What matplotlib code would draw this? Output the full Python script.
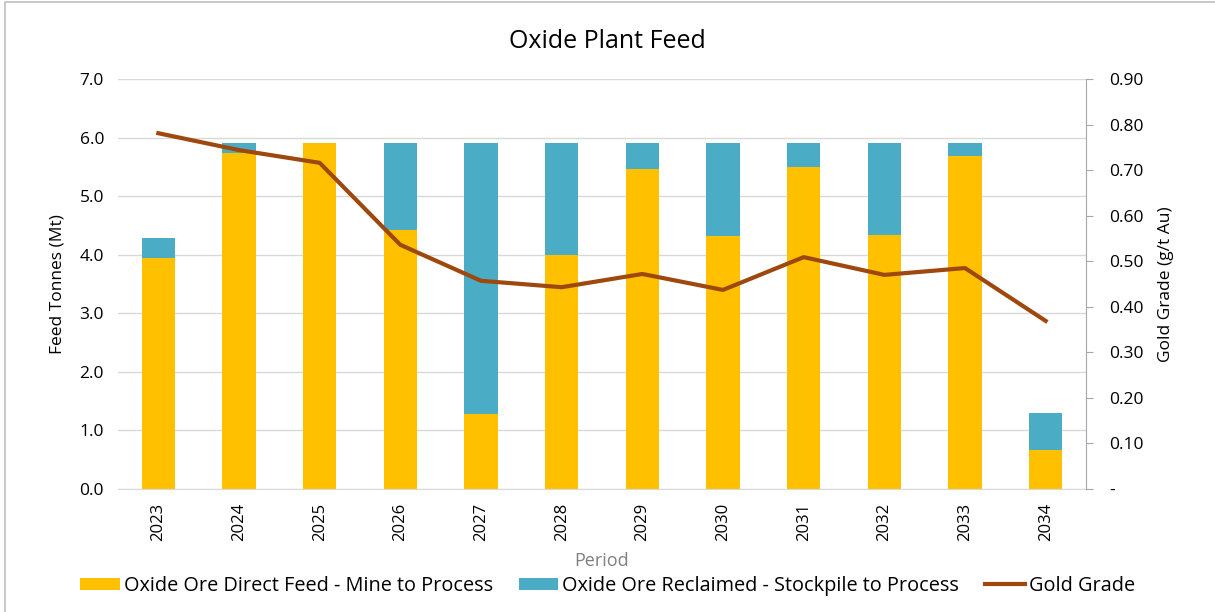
import numpy as np
import matplotlib.pyplot as plt
from matplotlib.ticker import FixedLocator
from matplotlib.lines import Line2D

plt.rcParams['font.family'] = ['Open Sans', 'DejaVu Sans']

years = ['2023', '2024', '2025', '2026', '2027', '2028', '2029', '2030', '2031', '2032', '2033', '2034']
direct_feed = [3.94, 5.74, 5.90, 4.43, 1.28, 4.00, 5.46, 4.32, 5.50, 4.34, 5.69, 0.66]
reclaimed = [0.35, 0.16, 0.00, 1.47, 4.62, 1.90, 0.44, 1.58, 0.40, 1.56, 0.21, 0.64]
gold_grade = [0.781, 0.744, 0.716, 0.536, 0.457, 0.443, 0.472, 0.437, 0.509, 0.470, 0.485, 0.369]

c_direct = '#FFC000'
c_reclaim = '#4BACC6'
c_gold = '#9E480E'

fig = plt.figure(figsize=(12.15, 6.12), dpi=100)
ax = fig.add_axes([118 / 1215, 1 - 489 / 612, (1086 - 118) / 1215, (489 - 79) / 612])

x = np.arange(len(years))
ax.bar(x, direct_feed, width=0.41, color=c_direct, label='Oxide Ore Direct Feed - Mine to Process', zorder=2)
ax.bar(x, reclaimed, width=0.41, bottom=direct_feed, color=c_reclaim,
       label='Oxide Ore Reclaimed - Stockpile to Process', zorder=2)

ax.set_xlim(-0.5, len(years) - 0.5)
ax.set_ylim(0, 7)
ax.set_yticks(np.arange(0, 7.5, 1.0))
ax.set_yticklabels([f'{v:.1f}' for v in np.arange(0, 7.5, 1.0)], fontsize=12.5)
ax.set_xticks(x)
ax.set_xticklabels(years, rotation=90, fontsize=12)
ax.tick_params(axis='y', length=0, pad=10)
ax.tick_params(axis='x', length=0, pad=10)
ax.grid(axis='y', color='#D9D9D9', linewidth=1, zorder=0)
for s in ['top', 'left', 'right']:
    ax.spines[s].set_visible(False)
ax.spines['bottom'].set_color('#D9D9D9')
ax.set_ylabel('Feed Tonnes (Mt)', fontsize=12.5, labelpad=10)
ax.set_xlabel('Period', fontsize=13, color='#808080', labelpad=8)

ax2 = ax.twinx()
ax2.plot(x, gold_grade, color=c_gold, linewidth=3, label='Gold Grade', zorder=3)
ax2.set_ylim(0, 0.9)
gticks = np.arange(0, 0.91, 0.1)
ax2.yaxis.set_major_locator(FixedLocator(gticks))
ax2.set_yticklabels(['-'] + [f'{v:.2f}' for v in gticks[1:]], fontsize=12.5)
ax2.tick_params(axis='y', length=5, color='#A6A6A6', pad=12)
for s in ['top', 'left', 'bottom']:
    ax2.spines[s].set_visible(False)
ax2.spines['right'].set_color('#A6A6A6')
ax2.set_ylabel('Gold Grade (g/t Au)', fontsize=12.5, labelpad=10)

fig.text(0.5, 1 - 42 / 612, 'Oxide Plant Feed', ha='center', va='center', fontsize=18)

h1, l1 = ax.get_legend_handles_labels()
h2, l2 = ax2.get_legend_handles_labels()
fig.legend(h1 + h2, l1 + l2, loc='center', bbox_to_anchor=(0.5, 1 - 586 / 612), ncol=3,
           frameon=False, fontsize=14.3, handlelength=2.0, handleheight=0.6,
           handletextpad=0.2, columnspacing=1.3)

# marco del grafico (solo arriba e izquierda)
fig.lines.append(Line2D([0.004, 0.004, 1.0], [0.0, 0.997, 0.997], transform=fig.transFigure,
                        color='#BFBFBF', linewidth=1.2))

fig.savefig('out.png', dpi=100)
